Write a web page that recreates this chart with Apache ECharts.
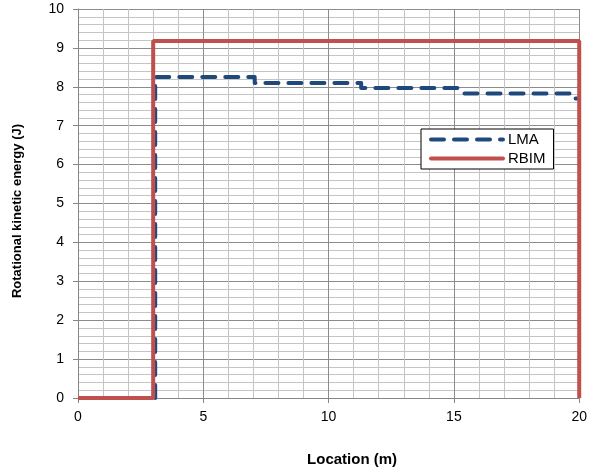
<!DOCTYPE html>
<html>
<head>
<meta charset="utf-8">
<script src="https://cdn.jsdelivr.net/npm/echarts@6/dist/echarts.min.js"></script>
<style>
html,body{margin:0;padding:0;background:#fff;}
#chart{width:590px;height:473px;}
</style>
</head>
<body>
<div id="chart"></div>
<script>
// LMA step data (x in m, y in J)
var lmaX = [3.08, 3.08, 7.05, 7.05, 11.3, 11.3, 15.25, 15.4, 19.65, 19.7, 20];
var lmaY = [0, 8.25, 8.25, 8.1, 8.1, 7.97, 7.97, 7.83, 7.83, 7.7, 7.7];
// RBIM data
var rbimX = [0, 3, 3, 20, 20];
var rbimY = [0, 0, 9.18, 9.18, 0];
var seriesNames = ['LMA', 'RBIM'];
var xTitle = 'Location (m)';
var yTitle = 'Rotational kinetic energy (J)';

function pairs(xs, ys) { return xs.map(function (x, i) { return [x, ys[i]]; }); }

var font = 'Liberation Sans, Arial, sans-serif';
var chart = echarts.init(document.getElementById('chart'), null, {renderer: 'canvas'});
chart.setOption({
  animation: false,
  backgroundColor: '#fff',
  textStyle: {fontFamily: font},
  grid: {left: 78, right: 9, top: 9, bottom: 75, containLabel: false},
  legend: {
    data: seriesNames,
    orient: 'vertical',
    left: 421, top: 129,
    padding: [3, 8, 3, 8],
    itemGap: 4,
    itemWidth: 72, itemHeight: 14,
    borderColor: '#000', borderWidth: 1, borderRadius: 0,
    backgroundColor: '#fff',
    itemStyle: {opacity: 0},
    lineStyle: {width: 4, cap: 'round'},
    textStyle: {fontFamily: font, fontSize: 15, color: '#000'}
  },
  xAxis: {
    type: 'value', min: 0, max: 20, interval: 5,
    name: xTitle, nameLocation: 'middle', nameGap: 54,
    nameTextStyle: {fontFamily: font, fontSize: 15, fontWeight: 'bold', color: '#000', padding: [0, 0, 0, 47]},
    axisLine: {show: true, lineStyle: {color: '#868686', width: 1}},
    axisTick: {show: true, length: 5, lineStyle: {color: '#868686'}},
    axisLabel: {fontFamily: font, fontSize: 14, color: '#000', margin: 12},
    splitLine: {show: true, lineStyle: {color: '#8c8c8c', width: 1}},
    minorTick: {show: false, splitNumber: 5},
    minorSplitLine: {show: true, lineStyle: {color: '#c4c4c4', width: 1}}
  },
  yAxis: {
    type: 'value', min: 0, max: 10, interval: 1,
    name: yTitle, nameLocation: 'middle', nameGap: 54,
    nameTextStyle: {fontFamily: font, fontSize: 13, fontWeight: 'bold', color: '#000', padding: [0, 15, 0, 0]},
    axisLine: {show: true, lineStyle: {color: '#868686', width: 1}},
    axisTick: {show: true, length: 5, lineStyle: {color: '#868686'}},
    axisLabel: {fontFamily: font, fontSize: 14, color: '#000', margin: 14},
    splitLine: {show: true, lineStyle: {color: '#8c8c8c', width: 1}},
    minorTick: {show: false, splitNumber: 5},
    minorSplitLine: {show: true, lineStyle: {color: '#c4c4c4', width: 1}}
  },
  series: [
    {
      name: seriesNames[0], type: 'line', data: pairs(lmaX, lmaY),
      symbol: 'none', showSymbol: false, clip: false,
      lineStyle: {color: '#1F497D', width: 4, type: [13, 10], cap: 'round', join: 'round'},
      itemStyle: {color: '#1F497D'}
    },
    {
      name: seriesNames[1], type: 'line', data: pairs(rbimX, rbimY),
      symbol: 'none', showSymbol: false, clip: false,
      lineStyle: {color: '#C0504D', width: 4},
      itemStyle: {color: '#C0504D'}
    }
  ]
});
</script>
</body>
</html>
